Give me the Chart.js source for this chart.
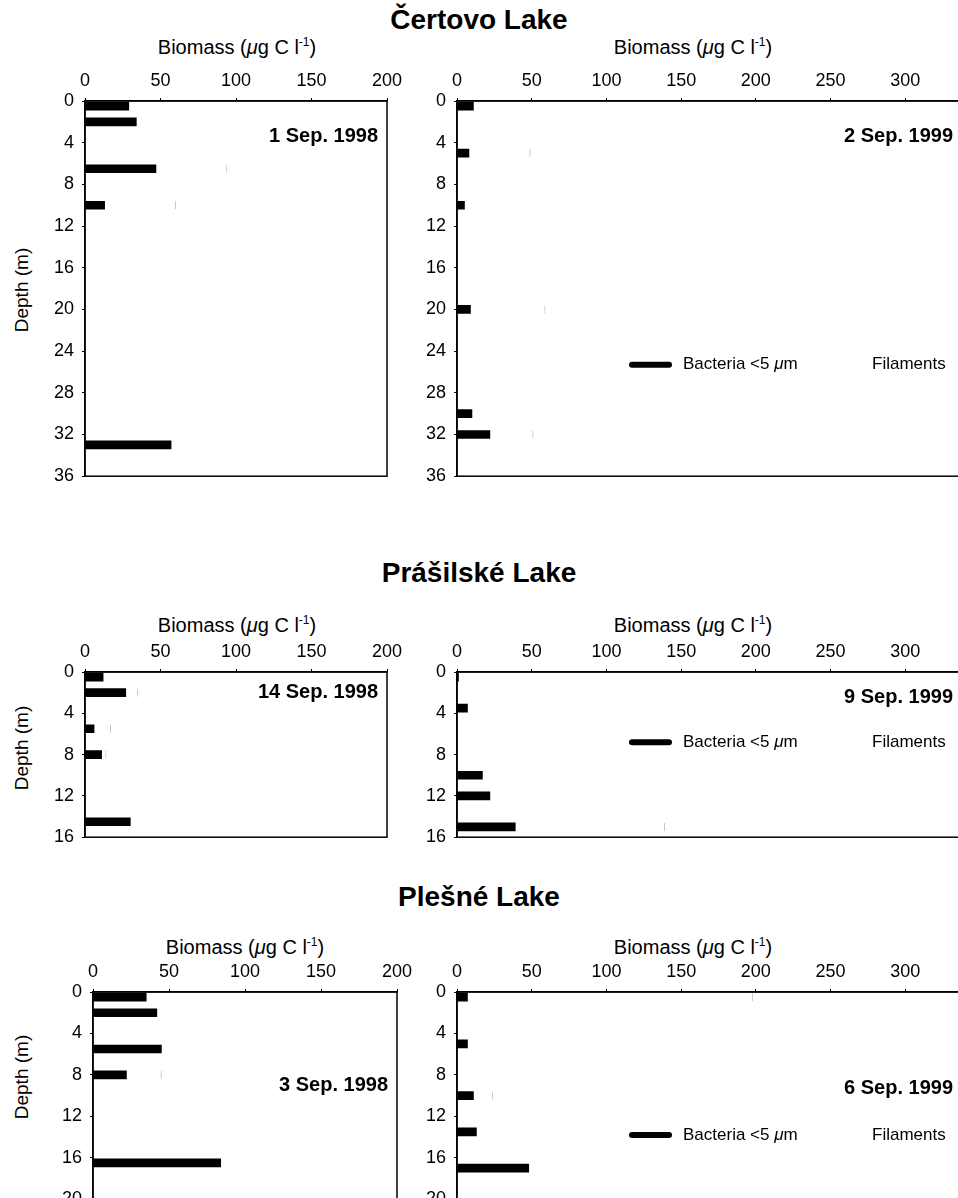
<!DOCTYPE html>
<html>
<head>
<meta charset="utf-8">
<script src="https://cdn.jsdelivr.net/npm/chart.js@4.4.1/dist/chart.umd.min.js"></script>
<style>
  html, body { margin: 0; padding: 0; background: #fff; overflow: hidden; }
  body { position: relative; width: 958px; height: 1198px; font-family: "Liberation Sans", Arial, sans-serif; color: #000; }
  .lake { position: absolute; left: 0; width: 958px; text-align: center; font-weight: bold; font-size: 28px; line-height: 32px; }
  .xt { position: absolute; font-size: 20px; line-height: 24px; white-space: nowrap; transform: translateX(-50%); }
  .xt sup { font-size: 12px; vertical-align: 8px; line-height: 0; }
  .dep { position: absolute; width: 120px; height: 24px; line-height: 24px; text-align: center; font-size: 19px; white-space: nowrap; transform: rotate(-90deg); }
  canvas { position: absolute; }
</style>
</head>
<body>

<div class="lake" style="top:4px">Čertovo Lake</div>
<div class="lake" style="top:557px">Prášilské Lake</div>
<div class="lake" style="top:881px">Plešné Lake</div>

<div class="xt" style="left:237px;top:35px">Biomass (<i>μ</i>g C l<sup>-1</sup>)</div>
<div class="xt" style="left:693px;top:35px">Biomass (<i>μ</i>g C l<sup>-1</sup>)</div>
<div class="xt" style="left:237px;top:613px">Biomass (<i>μ</i>g C l<sup>-1</sup>)</div>
<div class="xt" style="left:693px;top:613px">Biomass (<i>μ</i>g C l<sup>-1</sup>)</div>
<div class="xt" style="left:245px;top:935px">Biomass (<i>μ</i>g C l<sup>-1</sup>)</div>
<div class="xt" style="left:693px;top:935px">Biomass (<i>μ</i>g C l<sup>-1</sup>)</div>

<div class="dep" style="left:-38px;top:278px">Depth (m)</div>
<div class="dep" style="left:-38px;top:736px">Depth (m)</div>
<div class="dep" style="left:-38px;top:1065px">Depth (m)</div>

<canvas id="c1"></canvas>
<canvas id="c2"></canvas>
<canvas id="c3"></canvas>
<canvas id="c4"></canvas>
<canvas id="c5"></canvas>
<canvas id="c6"></canvas>

<script>
// series labels
const seriesLabels = ['Bacteria <5 μm', 'Filaments'];

// Čertovo Lake, 1 Sep. 1998
const certovo98Depth = [0.5, 2, 6.5, 10, 33];
const certovo98Bacteria = [29, 34, 47, 13, 57];
const certovo98Filaments = [26, 27, 94, 60, 30];

// Čertovo Lake, 2 Sep. 1999
const certovo99Depth = [0.5, 5, 10, 20, 30, 32];
const certovo99Bacteria = [11, 8, 5, 9, 10, 22];
const certovo99Filaments = [4, 49, 2, 59, 6, 51];

// Prášilské Lake, 14 Sep. 1998
const prasilske98Depth = [0.5, 2, 5.5, 8, 14.5];
const prasilske98Bacteria = [12, 27, 6, 11, 30];
const prasilske98Filaments = [8, 35, 17, 14, 20];

// Prášilské Lake, 9 Sep. 1999
const prasilske99Depth = [0.5, 3.5, 10, 12, 15];
const prasilske99Bacteria = [1, 7, 17, 22, 39];
const prasilske99Filaments = [0, 3, 2, 3, 139];

// Plešné Lake, 3 Sep. 1998
const plesne98Depth = [0.5, 2, 5.5, 8, 16.5];
const plesne98Bacteria = [35, 42, 45, 22, 84];
const plesne98Filaments = [20, 30, 30, 45, 50];

// Plešné Lake, 6 Sep. 1999
const plesne99Depth = [0.5, 5, 10, 13.5, 17];
const plesne99Bacteria = [7, 7, 11, 13, 48];
const plesne99Filaments = [198, 3, 24, 5, 30];

// axis settings
const biomassStep = 50;
const depthStep = 4;

const FONT = '"Liberation Sans", Arial, sans-serif';
const AXIS_W = 60, AXIS_H = 40, PAD_R = 25, PAD_B = 14;

Chart.defaults.font.family = FONT;
Chart.defaults.font.size = 18;
Chart.defaults.color = '#000';

function drawMixedLabel(ctx, label, x, y) {
    // the micro sign is set in italics, like in the figure
    const parts = label.split('μ');
    ctx.textAlign = 'left';
    parts.forEach((part, i) => {
        ctx.font = '17px ' + FONT;
        ctx.fillText(part, x, y);
        x += ctx.measureText(part).width;
        if (i < parts.length - 1) {
            ctx.font = 'italic 17px ' + FONT;
            ctx.fillText('μ', x, y);
            x += ctx.measureText('μ').width;
        }
    });
}

const panelText = {
    id: 'panelText',
    afterDatasetsDraw(chart, args, opts) {
        const { ctx, chartArea, scales } = chart;
        ctx.save();

        // box round the plot
        ctx.strokeStyle = '#000';
        ctx.lineWidth = 1.5;
        ctx.strokeRect(chartArea.left, chartArea.top, chartArea.width, chartArea.height);

        ctx.fillStyle = '#000';
        ctx.textBaseline = 'middle';
        ctx.textAlign = 'right';
        ctx.font = 'bold 20px ' + FONT;
        ctx.fillText(opts.date, chartArea.left + opts.dateRight, scales.y.getPixelForValue(opts.dateDepth));

        if (opts.legendDepth != null) {
            const y = scales.y.getPixelForValue(opts.legendDepth);
            let x = chartArea.left + opts.legendLeft;
            chart.data.datasets.forEach(ds => {
                ctx.strokeStyle = ds.backgroundColor;
                ctx.lineWidth = 6;
                ctx.lineCap = 'round';
                ctx.beginPath();
                ctx.moveTo(x + 3, y);
                ctx.lineTo(x + 40, y);
                ctx.stroke();
                ctx.fillStyle = '#000';
                drawMixedLabel(ctx, ds.label, x + 54, y);
                x += opts.legendGap;
            });
        }
        ctx.restore();
    }
};

function toPoints(depths, values) {
    return depths.map((d, i) => ({ x: values[i], y: d }));
}

function buildPanel(id, box, biomassMax, depthMax, depths, bacteria, filaments, text) {
    const canvas = document.getElementById(id);
    canvas.width = box.width + AXIS_W + PAD_R;
    canvas.height = box.height + AXIS_H + PAD_B;
    canvas.style.left = (box.left - AXIS_W) + 'px';
    canvas.style.top = (box.top - AXIS_H) + 'px';

    new Chart(canvas, {
        type: 'bar',
        data: {
            datasets: [
                {
                    label: seriesLabels[0],
                    data: toPoints(depths, bacteria),
                    backgroundColor: '#000',
                    borderWidth: 0,
                    order: 0
                },
                {
                    label: seriesLabels[1],
                    data: toPoints(depths, filaments),
                    backgroundColor: '#fff',
                    borderColor: '#c4c4c4',
                    borderWidth: { top: 0, right: 1, bottom: 0, left: 0 },
                    borderSkipped: false,
                    order: 1
                }
            ]
        },
        options: {
            indexAxis: 'y',
            responsive: false,
            animation: false,
            layout: { padding: { top: 0, left: 0, right: PAD_R, bottom: PAD_B } },
            datasets: { bar: { grouped: false, barThickness: 8 } },
            scales: {
                x: {
                    type: 'linear',
                    position: 'top',
                    min: 0,
                    max: biomassMax,
                    ticks: { stepSize: biomassStep, padding: 6, maxRotation: 0 },
                    grid: { drawOnChartArea: false, tickLength: 3, color: '#000' },
                    border: { display: true, color: '#000', width: 1.5 },
                    afterFit: axis => { axis.height = AXIS_H; }
                },
                y: {
                    type: 'linear',
                    reverse: true,
                    offset: false,
                    min: 0,
                    max: depthMax,
                    ticks: { stepSize: depthStep, padding: 8 },
                    grid: { drawOnChartArea: false, offset: false, tickLength: 3, color: '#000' },
                    border: { display: true, color: '#000', width: 1.5 },
                    afterFit: axis => { axis.width = AXIS_W; }
                }
            },
            plugins: {
                legend: { display: false },
                tooltip: { enabled: false },
                panelText: text
            }
        },
        plugins: [panelText]
    });
}

const rightWidth = 523; // 0..350 at the same scale as the 0..300 ticks

buildPanel('c1', { left: 85, top: 101, width: 302, height: 380 }, 200, 36,
    certovo98Depth, certovo98Bacteria, certovo98Filaments,
    { date: '1 Sep. 1998', dateDepth: 3.4, dateRight: 293 });

buildPanel('c2', { left: 457, top: 101, width: rightWidth, height: 380 }, 350, 36,
    certovo99Depth, certovo99Bacteria, certovo99Filaments,
    { date: '2 Sep. 1999', dateDepth: 3.4, dateRight: 496, legendDepth: 25.3, legendLeft: 172, legendGap: 189 });

buildPanel('c3', { left: 85, top: 672, width: 302, height: 170 }, 200, 16,
    prasilske98Depth, prasilske98Bacteria, prasilske98Filaments,
    { date: '14 Sep. 1998', dateDepth: 2, dateRight: 293 });

buildPanel('c4', { left: 457, top: 672, width: rightWidth, height: 170 }, 350, 16,
    prasilske99Depth, prasilske99Bacteria, prasilske99Filaments,
    { date: '9 Sep. 1999', dateDepth: 2.5, dateRight: 496, legendDepth: 6.8, legendLeft: 172, legendGap: 189 });

buildPanel('c5', { left: 93, top: 992, width: 304, height: 212 }, 200, 20,
    plesne98Depth, plesne98Bacteria, plesne98Filaments,
    { date: '3 Sep. 1998', dateDepth: 9, dateRight: 295 });

buildPanel('c6', { left: 457, top: 992, width: rightWidth, height: 212 }, 350, 20,
    plesne99Depth, plesne99Bacteria, plesne99Filaments,
    { date: '6 Sep. 1999', dateDepth: 9.3, dateRight: 496, legendDepth: 13.8, legendLeft: 172, legendGap: 189 });
</script>
</body>
</html>
